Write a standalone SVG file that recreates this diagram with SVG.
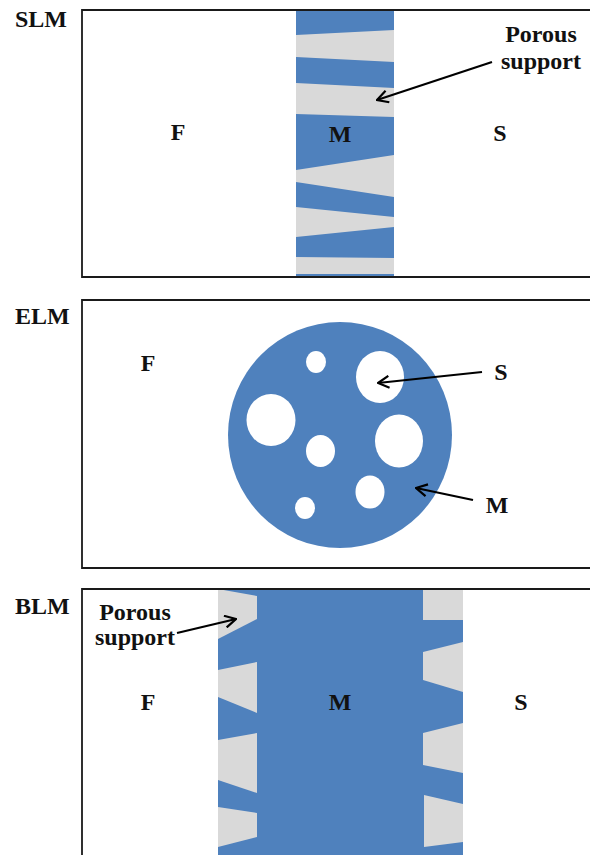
<svg xmlns="http://www.w3.org/2000/svg" width="590" height="855" viewBox="0 0 590 855">
<defs>
<style>
.box{fill:none;stroke:#1a1a1a;stroke-width:1.8}
.blue{fill:#4F81BD}
.gray{fill:#D9D9D9}
.hole{fill:#FFFFFF}
.t{font-family:"Liberation Serif","Times New Roman",serif;font-weight:bold;font-size:24px;fill:#111}
.tc{text-anchor:middle}
.arr{fill:none;stroke:#000;stroke-width:2.2;marker-end:url(#ah)}
</style>
<marker id="ah" viewBox="0 0 14 14" refX="13" refY="7" markerWidth="14" markerHeight="14" markerUnits="userSpaceOnUse" orient="auto">
<path d="M2,1 L13,7 L2,13" fill="none" stroke="#000" stroke-width="2.2" stroke-linejoin="miter"/>
</marker>
</defs>
<rect width="590" height="855" fill="#FFFFFF"/>

<g id="slm">
<rect class="gray" x="296" y="10" width="98" height="267"/>
<polygon class="blue" points="296,10 394,10 394,30 296,35"/>
<polygon class="blue" points="296,57 394,62 394,88 296,83"/>
<polygon class="blue" points="296,114 394,117 394,155 296,170"/>
<polygon class="blue" points="296,182 394,197 394,217 296,207"/>
<polygon class="blue" points="296,237 394,227 394,258 296,257"/>
<rect class="blue" x="296" y="274" width="98" height="3"/>
<path class="box" d="M600,10 H82 V277 H600"/>
<text class="t" x="15" y="27">SLM</text>
<text class="t tc" x="178" y="140">F</text>
<text class="t tc" x="340" y="142">M</text>
<text class="t tc" x="500" y="141">S</text>
<text class="t tc" x="541" y="42">Porous</text>
<text class="t tc" x="541" y="69">support</text>
</g>

<g id="elm">
<path class="box" d="M600,300 H82 V568 H600"/>
<ellipse class="blue" cx="340" cy="435" rx="112" ry="113"/>
<ellipse class="hole" cx="316" cy="362" rx="10" ry="11"/>
<ellipse class="hole" cx="380" cy="377" rx="24" ry="26"/>
<ellipse class="hole" cx="271" cy="420" rx="24.5" ry="26"/>
<ellipse class="hole" cx="399" cy="441" rx="24" ry="26.5"/>
<ellipse class="hole" cx="320.5" cy="451" rx="14.5" ry="16"/>
<ellipse class="hole" cx="370" cy="492" rx="14.5" ry="16.5"/>
<ellipse class="hole" cx="305" cy="508" rx="10" ry="11"/>
<text class="t" x="15" y="324">ELM</text>
<text class="t tc" x="148" y="371">F</text>
<text class="t tc" x="501" y="380">S</text>
<text class="t tc" x="497" y="513">M</text>
</g>

<g id="blm">
<rect class="blue" x="218" y="589" width="245" height="266"/>
<polygon class="gray" points="218,589 257,596 257,619 218,639"/>
<polygon class="gray" points="218,670 257,662 257,713 218,697"/>
<polygon class="gray" points="218,740 257,733 257,793 218,780"/>
<polygon class="gray" points="218,807 257,813 257,837 218,847"/>
<polygon class="gray" points="423,589 463,589 463,620 423,620"/>
<polygon class="gray" points="423,652 463,642 463,692 423,680"/>
<polygon class="gray" points="423,733 463,723 463,773 423,765"/>
<polygon class="gray" points="424,795 463,804 463,842 424,847"/>
<path class="box" d="M600,589 H82 V860"/>
<text class="t" x="15" y="614">BLM</text>
<text class="t tc" x="135" y="620">Porous</text>
<text class="t tc" x="135" y="645">support</text>
<text class="t tc" x="148" y="710">F</text>
<text class="t tc" x="340" y="710">M</text>
<text class="t tc" x="521" y="710">S</text>
</g>

<g id="connectors">
<line class="arr" x1="492" y1="62" x2="377" y2="100"/>
<line class="arr" x1="482" y1="372" x2="378" y2="383"/>
<line class="arr" x1="473" y1="500" x2="416" y2="488"/>
<line class="arr" x1="177" y1="633" x2="236" y2="619"/>
</g>
</svg>
